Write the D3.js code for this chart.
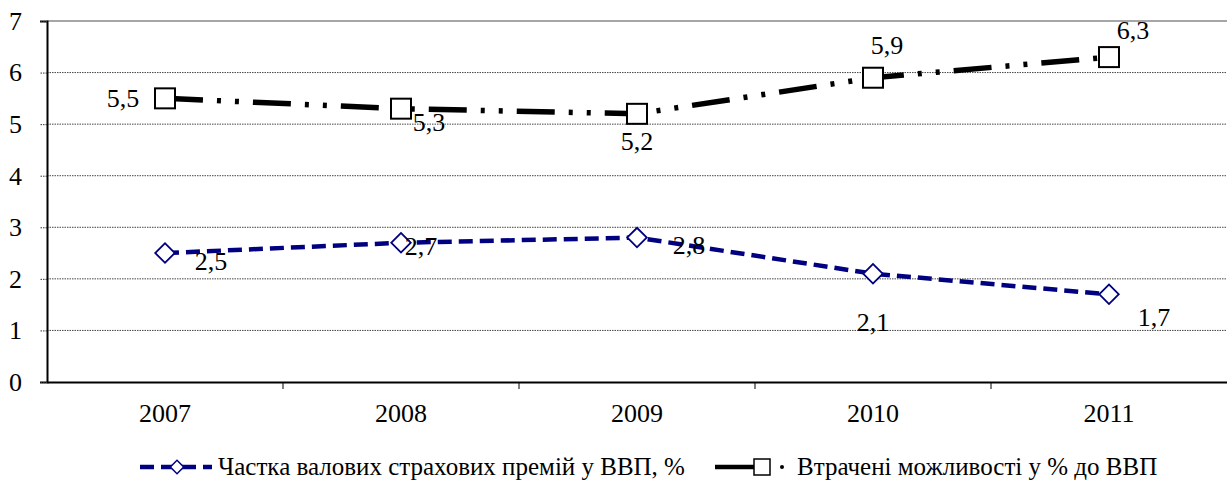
<!DOCTYPE html>
<html>
<head>
<meta charset="utf-8">
<script src="https://cdn.jsdelivr.net/npm/d3@7"></script>
<style>
  body { margin: 0; background: #fff; }
  text { font-family: 'Liberation Serif', 'DejaVu Serif', serif; }
</style>
</head>
<body>
<svg id="chart" width="1227" height="481"></svg>
<script>
// Data
const years = ['2007', '2008', '2009', '2010', '2011'];
const premiums = [2.5, 2.7, 2.8, 2.1, 1.7];
const lost = [5.5, 5.3, 5.2, 5.9, 6.3];
const yTicks = [0, 1, 2, 3, 4, 5, 6, 7];

const premiumsName = 'Частка валових страхових премій у ВВП, %';
const lostName = 'Втрачені можливості у % до ВВП';

// label offsets per point (dx, dy) relative to the marker
const premiumsLabelPos = [[46, 17], [20, 12], [52, 16], [0, 57], [45, 32]];
const lostLabelPos = [[-42, 9], [28, 22], [0, 36], [14, -24], [24, -18]];

const svg = d3.select('#chart');
const margin = { top: 21, right: 0, bottom: 99, left: 47 };
const W = 1227, H = 481;
const FS = 26;

const x = d3.scaleBand().domain(years).range([margin.left, W - margin.right]);
const y = d3.scaleLinear().domain([0, 7]).range([H - margin.bottom, margin.top]);

const fmt = v => String(v).replace('.', ',');
const cx = d => x(d) + x.bandwidth() / 2;

// Gridlines
svg.append('g')
  .selectAll('line')
  .data(yTicks.filter(t => t > 0))
  .join('line')
  .attr('x1', margin.left).attr('x2', W)
  .attr('y1', d => y(d)).attr('y2', d => y(d))
  .attr('stroke', d => d === 7 ? '#888' : '#444')
  .attr('stroke-width', d => d === 7 ? 1.5 : 1)
  .attr('stroke-dasharray', d => d === 7 ? null : '1.5 1');

// Y axis
const yAxis = svg.append('g')
  .attr('transform', `translate(${margin.left},0)`)
  .call(d3.axisLeft(y).tickValues(yTicks).tickSize(7).tickPadding(18).tickFormat(d3.format('d')));
yAxis.select('.domain').attr('stroke', '#000').attr('stroke-width', 2);
yAxis.selectAll('.tick line').attr('stroke', '#333').attr('stroke-dasharray', '1.5 1');
yAxis.selectAll('text').attr('font-size', FS).attr('fill', '#000')
  .attr('font-family', "'Liberation Serif', serif");

// X axis
const xAxis = svg.append('g')
  .attr('transform', `translate(0,${y(0)})`)
  .call(d3.axisBottom(x).tickSize(0).tickPadding(22));
xAxis.select('.domain').attr('stroke', '#000').attr('stroke-width', 2);
xAxis.selectAll('text').attr('font-size', FS).attr('fill', '#000')
  .attr('font-family', "'Liberation Serif', serif");
// category boundary ticks
svg.append('g')
  .selectAll('line')
  .data(years.slice(1))
  .join('line')
  .attr('x1', d => x(d)).attr('x2', d => x(d))
  .attr('y1', y(0)).attr('y2', y(0) + 7)
  .attr('stroke', '#000').attr('stroke-width', 1);

// Lines
const lineGen = d3.line().x((d, i) => cx(years[i])).y(d => y(d));

svg.append('path')
  .datum(lost)
  .attr('d', lineGen)
  .attr('fill', 'none')
  .attr('stroke', '#000')
  .attr('stroke-width', 5.5)
  .attr('stroke-dasharray', '38 14 4 14 4 14');

svg.append('path')
  .datum(premiums)
  .attr('d', lineGen)
  .attr('fill', 'none')
  .attr('stroke', '#000080')
  .attr('stroke-width', 4.5)
  .attr('stroke-dasharray', '14 7');

// Markers
const sq = 20;
svg.append('g')
  .selectAll('rect')
  .data(lost)
  .join('rect')
  .attr('x', (d, i) => cx(years[i]) - sq / 2)
  .attr('y', d => y(d) - sq / 2)
  .attr('width', sq).attr('height', sq)
  .attr('fill', '#fff').attr('stroke', '#000').attr('stroke-width', 2);

const diamond = d3.symbol().type(d3.symbolSquare).size(190);
svg.append('g')
  .selectAll('path')
  .data(premiums)
  .join('path')
  .attr('d', diamond)
  .attr('transform', (d, i) => `translate(${cx(years[i])},${y(d)}) rotate(45)`)
  .attr('fill', '#fff').attr('stroke', '#000080').attr('stroke-width', 1.8);

// Data labels
svg.append('g')
  .selectAll('text')
  .data(lost)
  .join('text')
  .attr('x', (d, i) => cx(years[i]) + lostLabelPos[i][0])
  .attr('y', (d, i) => y(d) + lostLabelPos[i][1])
  .attr('text-anchor', 'middle')
  .attr('font-size', FS)
  .text(fmt);

svg.append('g')
  .selectAll('text')
  .data(premiums)
  .join('text')
  .attr('x', (d, i) => cx(years[i]) + premiumsLabelPos[i][0])
  .attr('y', (d, i) => y(d) + premiumsLabelPos[i][1])
  .attr('text-anchor', 'middle')
  .attr('font-size', FS)
  .text(fmt);

// Legend
const legY = 467;
const leg = svg.append('g');
leg.append('line')
  .attr('x1', 140).attr('x2', 212).attr('y1', legY).attr('y2', legY)
  .attr('stroke', '#000080').attr('stroke-width', 4.5).attr('stroke-dasharray', '14 7');
leg.append('path')
  .attr('d', d3.symbol().type(d3.symbolSquare).size(90))
  .attr('transform', `translate(177,${legY}) rotate(45)`)
  .attr('fill', '#fff').attr('stroke', '#000080').attr('stroke-width', 1.5);
leg.append('text')
  .attr('x', 218).attr('y', legY + 8)
  .attr('font-size', 25)
  .text(premiumsName);

leg.append('line')
  .attr('x1', 715).attr('x2', 756).attr('y1', legY).attr('y2', legY)
  .attr('stroke', '#000').attr('stroke-width', 4.5);
leg.append('rect')
  .attr('x', 754).attr('y', legY - 8).attr('width', 16).attr('height', 16)
  .attr('fill', '#fff').attr('stroke', '#000').attr('stroke-width', 1.5);
leg.append('circle')
  .attr('cx', 782).attr('cy', legY).attr('r', 2)
  .attr('fill', '#000');
leg.append('text')
  .attr('x', 797).attr('y', legY + 8)
  .attr('font-size', 25)
  .text(lostName);
</script>
</body>
</html>
